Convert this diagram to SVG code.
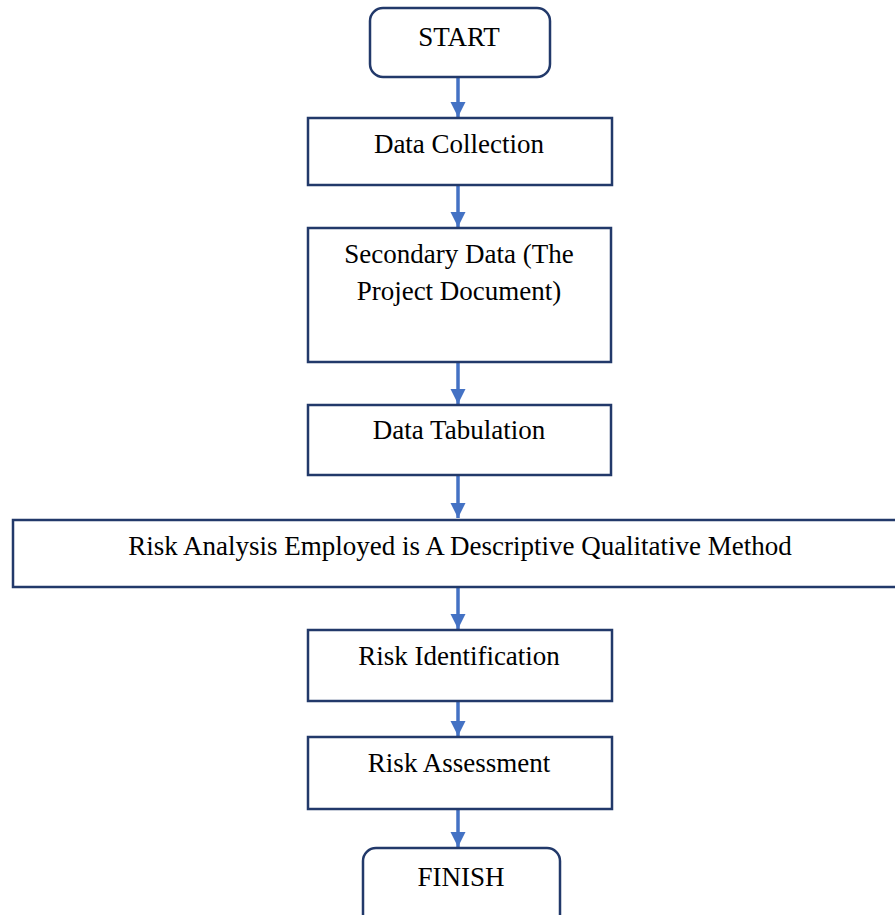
<svg xmlns="http://www.w3.org/2000/svg" width="895" height="915" viewBox="0 0 895 915">
<defs>
<style>
.box{fill:#fff;stroke:#22396a;stroke-width:2.5}
.t{font-family:"Liberation Serif","Times New Roman",serif;font-size:27px;fill:#000;text-anchor:middle}
.c{stroke:#4472c4;stroke-width:3.5;fill:none}
</style>
<marker id="ah" viewBox="0 0 10 10" refX="10" refY="5" markerWidth="4.3" markerHeight="4.3" markerUnits="strokeWidth" orient="auto">
<path d="M0,0 L10,5 L0,10 z" fill="#4472c4"/>
</marker>
</defs>
<rect width="895" height="915" fill="#fff"/>
<g id="connectors">
<line class="c" x1="458" y1="78" x2="458" y2="117" marker-end="url(#ah)"/>
<line class="c" x1="458" y1="186" x2="458" y2="227" marker-end="url(#ah)"/>
<line class="c" x1="458" y1="363" x2="458" y2="404" marker-end="url(#ah)"/>
<line class="c" x1="458" y1="476" x2="458" y2="518" marker-end="url(#ah)"/>
<line class="c" x1="458" y1="588" x2="458" y2="629" marker-end="url(#ah)"/>
<line class="c" x1="458" y1="702" x2="458" y2="736" marker-end="url(#ah)"/>
<line class="c" x1="458" y1="810" x2="458" y2="847" marker-end="url(#ah)"/>
</g>
<g id="start">
<rect class="box" x="370" y="8" width="180" height="69" rx="13"/>
<text class="t" x="459" y="46">START</text>
</g>
<g id="data-collection">
<rect class="box" x="308" y="118" width="304" height="67"/>
<text class="t" x="459" y="153">Data Collection</text>
</g>
<g id="secondary-data">
<rect class="box" x="308" y="228" width="303" height="134"/>
<text class="t" x="459" y="263">Secondary Data (The</text>
<text class="t" x="459" y="300">Project Document)</text>
</g>
<g id="data-tabulation">
<rect class="box" x="308" y="405" width="303" height="70"/>
<text class="t" x="459" y="439">Data Tabulation</text>
</g>
<g id="risk-analysis">
<rect class="box" x="13" y="520" width="900" height="67"/>
<text class="t" x="460" y="555">Risk Analysis Employed is A Descriptive Qualitative Method</text>
</g>
<g id="risk-identification">
<rect class="box" x="308" y="630" width="304" height="71"/>
<text class="t" x="459" y="665">Risk Identification</text>
</g>
<g id="risk-assessment">
<rect class="box" x="308" y="737" width="304" height="72"/>
<text class="t" x="459" y="772">Risk Assessment</text>
</g>
<g id="finish">
<rect class="box" x="363" y="848" width="197" height="90" rx="13"/>
<text class="t" x="461" y="886">FINISH</text>
</g>
</svg>
